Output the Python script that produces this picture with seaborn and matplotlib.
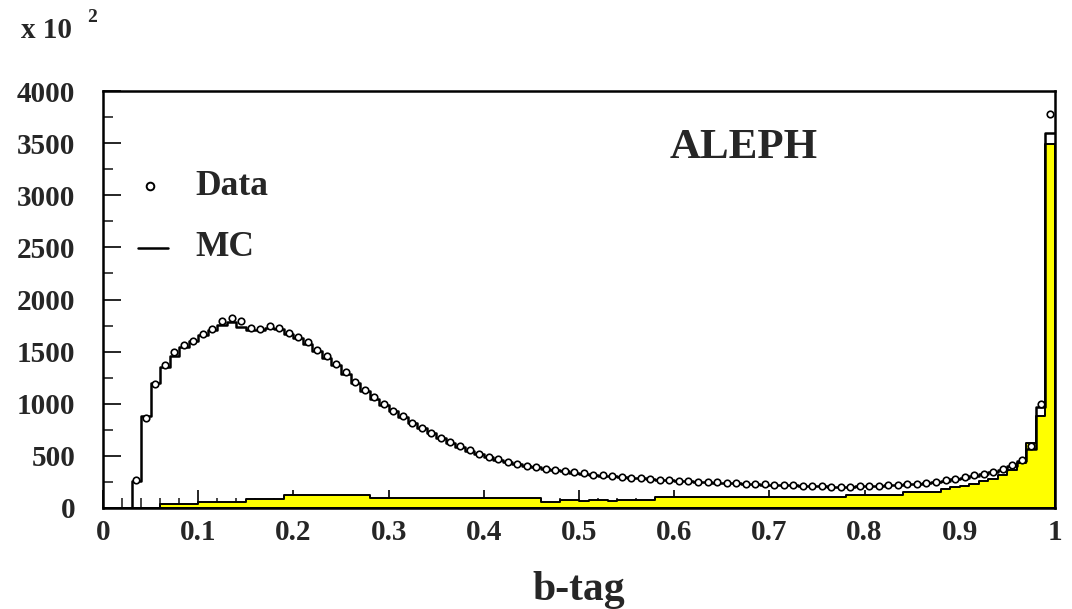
import numpy as np
import pandas as pd
import matplotlib
matplotlib.use("Agg")
import matplotlib.pyplot as plt
import seaborn as sns
from matplotlib.ticker import MultipleLocator, FixedLocator

# ---------------- data (units of 10^2 events, bins of width 0.01 in b-tag) ----------------
bin_lo = 0.0
bin_hi = 1.0
bin_width = 0.01

mc_total = [
    0, 0, 0, 260, 880, 1200, 1350, 1460, 1540, 1600,
    1660, 1710, 1760, 1780, 1740, 1710, 1710, 1730, 1720, 1670,
    1630, 1570, 1510, 1440, 1370, 1290, 1200, 1120, 1050, 990,
    930, 870, 815, 765, 715, 670, 625, 585, 550, 515,
    490, 465, 443, 423, 405, 390, 377, 365, 352, 340,
    330, 320, 311, 303, 296, 289, 283, 277, 272, 267,
    262, 257, 252, 248, 244, 240, 236, 232, 228, 225,
    222, 219, 216, 213, 210, 207, 205, 204, 205, 207,
    210, 213, 217, 221, 226, 232, 240, 250, 262, 276,
    292, 308, 325, 345, 368, 400, 450, 570, 970, 3600,
]

data_points = [
    np.nan, np.nan, np.nan, 270, 860, 1190, 1370, 1500, 1560, 1600,
    1670, 1720, 1790, 1820, 1790, 1730, 1720, 1750, 1730, 1680,
    1640, 1590, 1520, 1460, 1380, 1300, 1210, 1130, 1060, 1000,
    935, 880, 820, 770, 720, 675, 630, 590, 552, 518,
    492, 468, 445, 425, 407, 392, 378, 366, 353, 342,
    331, 321, 312, 304, 297, 290, 284, 278, 272, 268,
    263, 258, 253, 249, 245, 241, 237, 233, 229, 226,
    223, 220, 217, 214, 211, 208, 206, 205, 206, 208,
    211, 214, 218, 222, 227, 234, 242, 252, 264, 278,
    295, 312, 330, 350, 375, 410, 460, 590, 1000, 3780,
]

mc_b = [
    0, 0, 0, 0, 0, 0, 40, 40, 40, 40,
    60, 60, 60, 60, 60, 85, 85, 85, 85, 120,
    120, 120, 120, 120, 120, 120, 120, 120, 93, 93,
    93, 93, 93, 93, 93, 93, 93, 93, 93, 93,
    93, 93, 93, 93, 93, 93, 60, 60, 75, 75,
    65, 75, 75, 65, 75, 75, 75, 75, 105, 105,
    105, 105, 105, 105, 105, 105, 105, 105, 105, 105,
    105, 105, 105, 105, 105, 105, 105, 105, 128, 128,
    128, 128, 128, 128, 150, 150, 150, 150, 180, 200,
    215, 235, 255, 280, 320, 360, 430, 620, 880, 3490,
]

x_ticks = [0, 0.1, 0.2, 0.3, 0.4, 0.5, 0.6, 0.7, 0.8, 0.9, 1]
x_ticklabels = ["0", "0.1", "0.2", "0.3", "0.4", "0.5", "0.6", "0.7", "0.8", "0.9", "1"]
y_ticks = [0, 500, 1000, 1500, 2000, 2500, 3000, 3500, 4000]

# ---------------- style ----------------
sns.set_style("ticks")
plt.rcParams["font.family"] = ["Liberation Serif", "DejaVu Serif"]
plt.rcParams["font.weight"] = "bold"

n_bins = len(mc_total)
centers = bin_lo + bin_width * (np.arange(n_bins) + 0.5)
df = pd.DataFrame({"btag": centers, "mc": mc_total, "data": data_points, "mcb": mc_b})

fig = plt.figure(figsize=(10.72, 6.09), dpi=100)
ax = fig.add_axes([103 / 1072, 1 - 508 / 609, (1055 - 103) / 1072, (508 - 91) / 609])

# b-component (yellow)
sns.histplot(data=df, x="btag", weights="mcb", binwidth=bin_width, binrange=(bin_lo, bin_hi),
             element="step", fill=True, color="#ffff00", alpha=1.0, edgecolor="black",
             linewidth=1.4, ax=ax, zorder=1)
# MC total
sns.histplot(data=df, x="btag", weights="mc", binwidth=bin_width, binrange=(bin_lo, bin_hi),
             element="step", fill=False, color="black", linewidth=1.8, ax=ax, zorder=3)
# Data
sns.scatterplot(data=df, x="btag", y="data", marker="o", s=22, facecolor="white",
                edgecolor="black", linewidth=1.2, ax=ax, zorder=5)

ax.set_xlim(0, 1)
ax.set_ylim(0, 4000)
ax.xaxis.set_major_locator(FixedLocator(x_ticks))
ax.set_xticklabels(x_ticklabels)
ax.xaxis.set_minor_locator(MultipleLocator(0.02))
ax.yaxis.set_major_locator(FixedLocator(y_ticks))
ax.yaxis.set_minor_locator(MultipleLocator(250))
ax.tick_params(axis="both", which="major", direction="in", length=13, width=1.4,
               labelsize=21, top=False, right=False)
ax.tick_params(axis="both", which="minor", direction="in", length=7, width=1.2,
               top=False, right=False)
ax.tick_params(axis="y", which="major", pad=20)
ax.tick_params(axis="x", which="major", pad=8)
for lab in ax.get_xticklabels() + ax.get_yticklabels():
    lab.set_fontweight("bold")
for sp in ax.spines.values():
    sp.set_visible(True)
    sp.set_linewidth(1.8)
    sp.set_color("black")
ax.set_ylabel("")
ax.set_xlabel("")

# axis title
fig.text((103 + 1055) / 2 / 1072, 1 - 600 / 609, "b-tag", ha="center", va="baseline",
         fontsize=30, fontweight="bold")
# multiplier
fig.text(21 / 1072, 1 - 31 / 609, "x 10", ha="left", va="center", fontsize=21, fontweight="bold")
fig.text(87 / 1072, 1 - 18 / 609, "2", ha="left", va="center", fontsize=14, fontweight="bold")

# experiment label
ax.text(0.673, 0.863, "ALEPH", transform=ax.transAxes, ha="center", va="center",
        fontsize=31, fontweight="bold")

# legend
ax.plot([0.049], [0.772], transform=ax.transAxes, marker="o", ms=5.5, mfc="white",
        mec="black", mew=1.4, ls="none")
ax.text(0.097, 0.772, "Data", transform=ax.transAxes, ha="left", va="center",
        fontsize=25.5, fontweight="bold")
ax.plot([0.037, 0.068], [0.624, 0.624], transform=ax.transAxes, color="black", lw=1.8)
ax.text(0.097, 0.624, "MC", transform=ax.transAxes, ha="left", va="center",
        fontsize=25.5, fontweight="bold")

fig.savefig("out.png", dpi=100)
